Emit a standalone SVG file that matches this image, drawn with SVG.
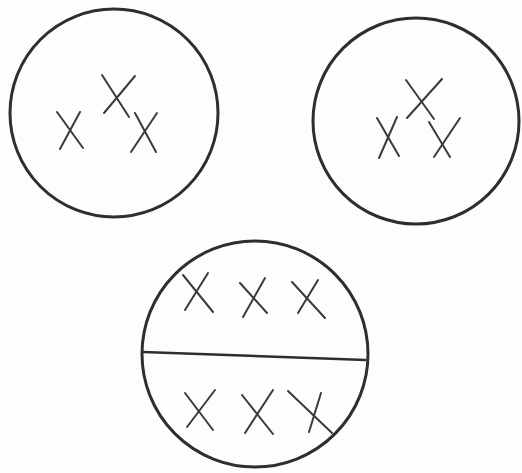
<svg xmlns="http://www.w3.org/2000/svg" width="522" height="473" viewBox="0 0 522 473">
<style>
.c{fill:none;stroke:#2e2e2e;stroke-width:3}
.m line{stroke:#3a3a3a;stroke-width:2;stroke-linecap:round}
</style>
<rect width="522" height="473" fill="#fdfdfd"/>
<g id="cell1">
<circle class="c" cx="114" cy="113" r="104"/>
<g class="m">
<line x1="57" y1="112" x2="83" y2="148"/><line x1="80" y1="112" x2="60" y2="149"/>
<line x1="102" y1="75" x2="129" y2="117"/><line x1="135" y1="76" x2="104" y2="113"/>
<line x1="135" y1="113" x2="156" y2="152"/><line x1="157" y1="113" x2="131" y2="152"/>
</g>
</g>
<g id="cell2">
<circle class="c" cx="416" cy="121" r="103"/>
<g class="m">
<line x1="406" y1="80" x2="434" y2="119"/><line x1="442" y1="79" x2="407" y2="118"/>
<line x1="377" y1="118" x2="399" y2="156"/><line x1="397" y1="117" x2="379" y2="158"/>
<line x1="429" y1="122" x2="450" y2="157"/><line x1="460" y1="118" x2="434" y2="157"/>
</g>
</g>
<g id="cell3">
<circle class="c" cx="255" cy="354" r="113"/>
<line x1="143" y1="352" x2="366" y2="360" stroke="#2e2e2e" stroke-width="2.5"/>
<g class="m">
<line x1="183" y1="275" x2="213" y2="312"/><line x1="208" y1="273" x2="185" y2="310"/>
<line x1="240" y1="283" x2="267" y2="313"/><line x1="265" y1="278" x2="243" y2="317"/>
<line x1="292" y1="282" x2="325" y2="318"/><line x1="318" y1="280" x2="298" y2="313"/>
<line x1="185" y1="393" x2="213" y2="430"/><line x1="215" y1="390" x2="187" y2="427"/>
<line x1="242" y1="395" x2="273" y2="434"/><line x1="273" y1="390" x2="245" y2="433"/>
<line x1="288" y1="391" x2="332" y2="433"/><line x1="321" y1="393" x2="309" y2="432"/>
</g>
</g>
</svg>
